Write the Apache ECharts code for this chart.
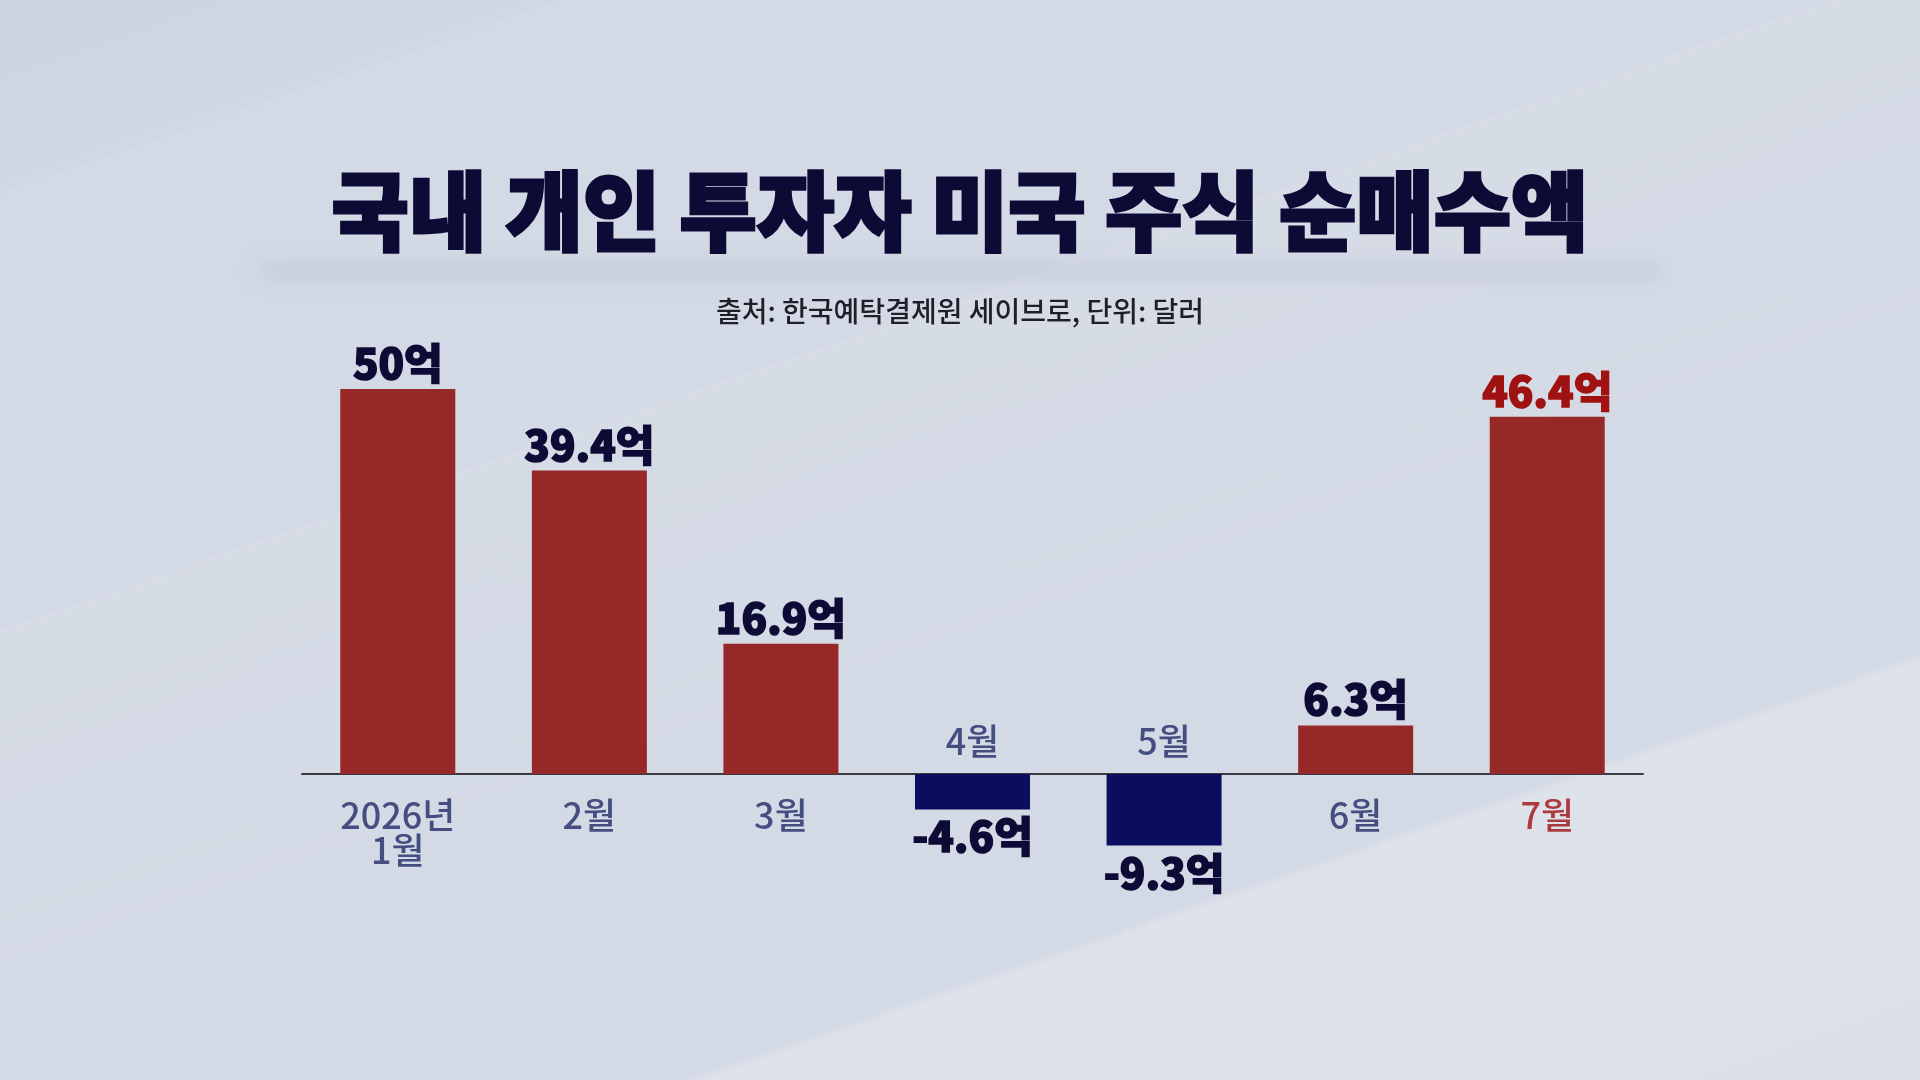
<!DOCTYPE html>
<html>
<head>
<meta charset="utf-8">
<title>국내 개인 투자자 미국 주식 순매수액</title>
<script src="https://cdn.jsdelivr.net/npm/echarts@6/dist/echarts.min.js"></script>
<style>
    html, body { margin: 0; padding: 0; width: 100%; height: 100%; overflow: hidden; }
    body {
        background:
            linear-gradient(161deg, rgba(190,198,214,0.35) 0%, rgba(190,198,214,0.15) 11%, rgba(255,255,255,0) 11.2%),
            linear-gradient(161deg, rgba(255,255,255,0) 36%, rgba(255,255,255,0.06) 36.3%, rgba(255,255,255,0) 60%),
            linear-gradient(161deg, rgba(255,255,255,0) 75.5%, rgba(255,255,255,0.22) 76%, rgba(255,255,255,0.15) 100%),
            #d4dae5;
    }
    #chart { width: 1920px; height: 1080px; }
</style>
</head>
<body>
<div id="chart"></div>
<script>
// 단위: 억 달러
var months = ['2026년\n1월', '2월', '3월', '4월', '5월', '6월', '7월'];
var netBuy = [50, 39.4, 16.9, -4.6, -9.3, 6.3, 46.4];
var highlightMonth = '7월';

var chart = echarts.init(document.getElementById('chart'));

var RED = '#962828';
var NAVY = '#0b0d5e';
var TEXT_NAVY = '#0b0b36';
var LABEL_NAVY = '#1f2a68';
var HIGHLIGHT = '#a01212';
var FONT = '"Noto Sans CJK KR", "Noto Sans", sans-serif';

// 막대 + 값 라벨
var barData = netBuy.map(function (v, i) {
    var pos = v >= 0;
    var c = months[i] === highlightMonth ? HIGHLIGHT : TEXT_NAVY;
    return {
        value: v,
        itemStyle: { color: pos ? RED : NAVY },
        label: {
            position: pos ? 'top' : 'bottom',
            distance: pos ? 5 : 6,
            color: c,
            textBorderColor: c
        }
    };
});

// 월 라벨: 양수면 축 아래, 음수면 축 위
var monthData = netBuy.map(function (v, i) {
    var pos = v >= 0;
    return {
        value: 0,
        label: {
            position: pos ? 'bottom' : 'top',
            distance: pos ? 23 : 15,
            color: months[i] === highlightMonth ? HIGHLIGHT : LABEL_NAVY
        }
    };
});

var option = {
    backgroundColor: 'transparent',
    animation: false,
    graphic: [
        {
            // 제목 아래 그림자 (사각형은 화면 밖, 그림자만 보임)
            type: 'rect',
            silent: true,
            z: -1,
            shape: { x: 260, y: -100, width: 1400, height: 6 },
            style: {
                fill: '#b8bfcf',
                shadowBlur: 20,
                shadowOffsetY: 368,
                shadowColor: 'rgba(150,158,178,0.6)'
            }
        },
        {
            type: 'text',
            silent: true,
            x: 960,
            y: 211,
            scaleX: 0.978,
            style: {
                text: '국내 개인 투자자 미국 주식 순매수액',
                fontFamily: FONT,
                fontSize: 86,
                fontWeight: 900,
                fill: TEXT_NAVY,
                stroke: TEXT_NAVY,
                lineWidth: 3,
                textAlign: 'center',
                textVerticalAlign: 'middle'
            }
        },
        {
            type: 'text',
            silent: true,
            x: 960,
            y: 311,
            style: {
                text: '출처: 한국예탁결제원 세이브로, 단위: 달러',
                fontFamily: FONT,
                fontSize: 28,
                fontWeight: 500,
                fill: '#1f1f2a',
                textAlign: 'center',
                textVerticalAlign: 'middle'
            }
        }
    ],
    grid: {
        left: 302,
        right: 277,
        top: 389,
        bottom: 152
    },
    xAxis: {
        type: 'category',
        data: months,
        axisLine: { show: true, onZero: true, lineStyle: { color: '#3a3a40', width: 2 } },
        axisTick: { show: false },
        axisLabel: { show: false },
        splitLine: { show: false }
    },
    yAxis: {
        type: 'value',
        min: -20,
        max: 50,
        show: false,
        splitLine: { show: false }
    },
    series: [
        {
            type: 'bar',
            data: barData,
            barWidth: 115,
            silent: true,
            label: {
                show: true,
                fontFamily: FONT,
                fontSize: 42,
                fontWeight: 900,
                textBorderWidth: 1.5,
                formatter: function (p) { return p.value + '억'; }
            }
        },
        {
            type: 'scatter',
            data: monthData,
            symbolSize: 1,
            silent: true,
            itemStyle: { color: 'rgba(0,0,0,0)' },
            label: {
                show: true,
                fontFamily: FONT,
                fontSize: 36,
                fontWeight: 500,
                lineHeight: 35,
                align: 'center',
                formatter: function (p) { return p.name; }
            }
        }
    ]
};

chart.setOption(option);
</script>
</body>
</html>
